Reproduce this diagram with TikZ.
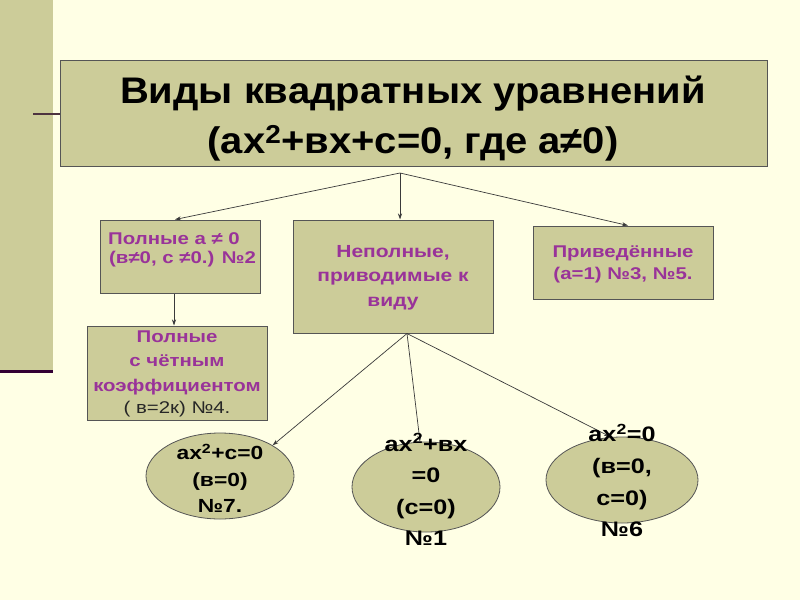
\documentclass[tikz,border=0pt]{standalone}
\usepackage{fontspec}
\setmainfont[FakeStretch=1.2]{Liberation Sans}
\newfontfamily\titlefont[FakeStretch=1.08]{Liberation Sans}
\usetikzlibrary{arrows.meta,shapes.geometric}
\definecolor{bg}{HTML}{FFFFE5}
\definecolor{olive}{HTML}{CCCC99}
\definecolor{bord}{HTML}{555555}
\definecolor{purp}{HTML}{993399}
\definecolor{ln}{HTML}{3A3A3A}
\definecolor{stubc}{HTML}{4D3340}
\definecolor{barline}{HTML}{330033}
\begin{document}
\begin{tikzpicture}[x=1pt,y=-1pt,
  box/.style={draw=bord, fill=olive, line width=1pt, inner sep=0pt},
  ell/.style={ellipse, draw=bord, fill=olive, line width=0.8pt, inner sep=0pt},
  arr/.style={draw=ln, line width=0.7pt, -{Stealth[length=6pt,width=4pt]}},
  ptxt/.style={text=purp, align=center, inner sep=0pt},
  etxt/.style={text=black, align=center, inner sep=0pt},
  ttxt/.style={anchor=base, inner sep=0pt, font=\titlefont\bfseries\fontsize{37}{42}\selectfont}]
\useasboundingbox (0,0) rectangle (800,600);
\fill[bg] (0,0) rectangle (800,600);
\fill[olive] (0,0) rectangle (53,371);
\draw[barline, line width=3pt] (0,371.5) -- (53,371.5);

% main box
\node[box, minimum width=707pt, minimum height=106pt] (main) at (413.5,113) {};
\coordinate (stub) at (33,114);
\draw[stubc, line width=1.5pt] (stub) -- (stub -| main.west);
\node[ttxt] (t1) at (413,103) {Виды квадратных уравнений};
\node[ttxt] (t2) at (413,153) {(ax\textsuperscript{2}+вx+c=0, где a≠0)};

% second row boxes
\node[box, minimum width=160pt, minimum height=73pt] (pfull) at (180,256.5) {};
\node[ptxt, anchor=base west, font=\bfseries\fontsize{17}{19}\selectfont] (pf1) at (108,244) {Полные a ≠ 0};
\node[ptxt, anchor=base west, font=\bfseries\fontsize{17}{19}\selectfont] (pf2) at (109,263) {(в≠0, c ≠0.) №2};

\node[box, minimum width=200pt, minimum height=113pt] (nep) at (393,276.5) {};
\node[ptxt, font=\bfseries\fontsize{17.5}{24.5}\selectfont] (neptxt) at (393,277.5) {Неполные,\\приводимые к\\виду};

\node[box, minimum width=180pt, minimum height=73pt] (priv) at (623,262.5) {};
\node[ptxt, font=\bfseries\fontsize{17}{22}\selectfont] (privtxt) at (623,264) {Приведённые\\(a=1) №3, №5.};

\node[box, minimum width=180pt, minimum height=94pt] (pchet) at (177,373) {};
\node[ptxt, font=\bfseries\fontsize{17}{24.5}\selectfont] (pchtxt) at (177,362.5) {Полные\\с чётным\\коэффициентом};
\node[inner sep=0pt, text=black!85, font=\fontsize{17}{20}\selectfont] (pchtxt2) at (177,409) {( в=2к) №4.};

% ellipses
\node[ell, minimum width=148pt, minimum height=86pt] (e1) at (220,476) {};
\node[ell, minimum width=148pt, minimum height=90pt] (e2) at (426,487) {};
\node[ell, minimum width=152pt, minimum height=86pt] (e3) at (622,480) {};

% connectors
\coordinate (split) at (400,173);
\draw[arr] (split) -- ([xshift=-5pt]pfull.north);
\draw[arr] (split) -- ([xshift=7pt]nep.north);
\draw[arr] (split) -- ([xshift=5pt]priv.north);
\draw[arr] ([xshift=-6pt]pfull.south) -- ([xshift=-6pt]pfull.south |- pchet.north);
\draw[arr] ([xshift=14pt]nep.south) -- (e1.north east);
\draw[arr] ([xshift=14pt]nep.south) -- ([xshift=-6pt]e2.north);
\draw[arr] ([xshift=14pt]nep.south) -- ([xshift=-12pt]e3.north);

% ellipse texts
\node[etxt, font=\bfseries\fontsize{19}{26.5}\selectfont] (e1t) at (220,478.5) {ax\textsuperscript{2}+c=0\\(в=0)\\№7.};
\node[etxt, font=\bfseries\fontsize{21}{31.5}\selectfont] (e2t) at (426,489.5) {ax\textsuperscript{2}+вx\\=0\\(c=0)\\№1};
\node[etxt, font=\bfseries\fontsize{21}{31.7}\selectfont] (e3t) at (622,480.5) {ax\textsuperscript{2}=0\\(в=0,\\c=0)\\№6};
\end{tikzpicture}
\end{document}
